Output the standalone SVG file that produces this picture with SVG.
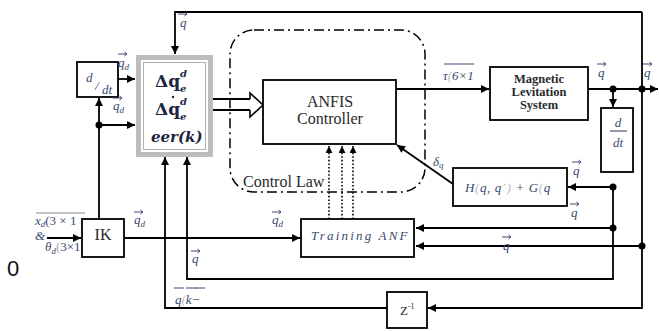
<svg xmlns="http://www.w3.org/2000/svg" xmlns:xlink="http://www.w3.org/1999/xlink" width="659" height="331" viewBox="0 0 659 331">
<style>
.box{fill:#fff;stroke:#000;stroke-width:1.8}
.ln{fill:none;stroke:#000;stroke-width:1.8}
.dot{fill:#000}
.lbl{font-family:"Liberation Serif",serif;font-style:italic;font-size:13px;fill:#3a4a70}
.sub{font-size:9px}
.tm{font-family:"Liberation Serif",serif;fill:#2a2a2a}
.math{font-family:"DejaVu Serif",serif;font-weight:bold;fill:#1c2540}
.va{fill:none;stroke:#3a4a70;stroke-width:1}
</style>
<defs>
<marker id="ah" viewBox="0 0 10 10" refX="10" refY="5" markerWidth="9" markerHeight="8" markerUnits="userSpaceOnUse" orient="auto">
<path d="M0,0 L10,5 L0,10 z" fill="#000"/>
</marker>
<marker id="ahs" viewBox="0 0 10 10" refX="10" refY="5" markerWidth="7" markerHeight="7" markerUnits="userSpaceOnUse" orient="auto">
<path d="M0,0 L10,5 L0,10 z" fill="#000"/>
</marker>
<path id="va" class="va" d="M0,0 H9 M6.5,-2 L9,0 L6.5,2"/>
<path id="ol" class="va" d="M0,0 H10"/>
</defs>
<rect width="659" height="331" fill="#fff"/>

<g id="connectors">
<path class="ln" d="M642,12 H175 V54" marker-end="url(#ah)"/>
<path class="ln" d="M642,12 V308 H428" marker-end="url(#ah)"/>
<path class="ln" d="M588,89 H658" marker-end="url(#ah)"/>
<path class="ln" d="M613,89 V107" marker-end="url(#ah)"/>
<path class="ln" d="M396,89 H489" marker-end="url(#ah)"/>
<path class="ln" d="M453,184 L397,145" marker-end="url(#ah)"/>
<path class="ln" d="M613,187 H568" marker-end="url(#ah)"/>
<path class="ln" d="M613,187 V279 H187 V157" marker-end="url(#ah)"/>
<path class="ln" d="M613,228 H416" marker-end="url(#ah)"/>
<path class="ln" d="M642,246 H416" marker-end="url(#ah)"/>
<path class="ln" d="M387,308 H165 V157" marker-end="url(#ah)"/>
<path class="ln" d="M124,238 H300" marker-end="url(#ah)"/>
<path class="ln" d="M47,238 H81" marker-end="url(#ah)"/>
<path class="ln" d="M99,219 V98" marker-end="url(#ah)"/>
<path class="ln" d="M99,125 H135" marker-end="url(#ah)"/>
<path class="ln" d="M118,79 H135" marker-end="url(#ah)"/>
<path class="ln" d="M213,99 H250 M213,110 H250"/>
<path d="M250,99 V93 L263,105 L250,117 V110" fill="#fff" stroke="#000" stroke-width="1.6"/>
<g fill="none" stroke="#000" stroke-width="1.6" stroke-dasharray="1.6,2">
<path d="M329,219 V146" marker-end="url(#ahs)"/>
<path d="M342,219 V146" marker-end="url(#ahs)"/>
<path d="M353,219 V146" marker-end="url(#ahs)"/>
</g>
<circle class="dot" cx="613" cy="89" r="3.5"/>
<circle class="dot" cx="642" cy="89" r="3.5"/>
<circle class="dot" cx="613" cy="187" r="3.5"/>
<circle class="dot" cx="613" cy="228" r="3.5"/>
<circle class="dot" cx="642" cy="246" r="3.5"/>
<circle class="dot" cx="99" cy="125" r="3.5"/>
</g>

<g id="control-law">
<rect x="230" y="30" width="195" height="162" rx="24" fill="none" stroke="#000" stroke-width="1.5" stroke-dasharray="10,4,2,4"/>
<text class="tm" x="243" y="187" font-size="16">Control Law</text>
</g>

<g id="error-box">
<rect x="138.5" y="57.5" width="72" height="97" fill="#fff" stroke="#bdbdbd" stroke-width="5"/>
<rect x="143.5" y="62.5" width="62" height="87" fill="none" stroke="#b0b0b0" stroke-width="1"/>
<text class="math" x="155" y="87" font-size="17">Δq</text>
<text class="math" x="180" y="77" font-size="10" font-style="italic">d</text>
<text class="math" x="180" y="92" font-size="10" font-style="italic">e</text>
<circle cx="173" cy="97" r="1.2" fill="#1c2540"/>
<text class="math" x="155" y="115" font-size="17">Δq</text>
<text class="math" x="180" y="105" font-size="10" font-style="italic">d</text>
<text class="math" x="180" y="120" font-size="10" font-style="italic">e</text>
<text class="math" x="151" y="142" font-size="15" font-style="italic">eer(k)</text>
</g>

<g id="ddt-left">
<rect class="box" x="77" y="62" width="41" height="35"/>
<text class="lbl" x="86" y="82" font-size="17" fill="#2a3050">d</text>
<text class="lbl" x="95" y="90" font-size="19" font-style="normal" fill="#2a3050">/</text>
<text class="lbl" x="102" y="94" font-size="11" fill="#2a3050">dt</text>
</g>

<g id="anfis">
<rect class="box" x="263" y="80" width="133" height="64"/>
<text class="tm" x="330" y="107" font-size="16" text-anchor="middle">ANFIS</text>
<text class="tm" x="330" y="124" font-size="16" text-anchor="middle">Controller</text>
</g>

<g id="maglev">
<rect class="box" x="490" y="67" width="98" height="53"/>
<g class="tm" font-size="12.5" font-weight="bold" text-anchor="middle" fill="#1a1a1a">
<text x="539" y="83">Magnetic</text>
<text x="539" y="96">Levitation</text>
<text x="539" y="109">System</text>
</g>
</g>

<g id="ddt-right">
<rect class="box" x="601" y="108" width="32" height="64"/>
<text class="lbl" x="618" y="127" font-size="15" text-anchor="middle" fill="#2a3050">d</text>
<path d="M610,131 H627" stroke="#2a3050" stroke-width="1"/>
<text class="lbl" x="618" y="147" font-size="15" text-anchor="middle" fill="#2a3050">dt</text>
</g>

<g id="hg">
<rect class="box" x="453" y="168" width="114" height="38"/>
<text class="lbl" x="465" y="192" font-size="18" letter-spacing="0.6" fill="#2a3a66">H<tspan fill="#bbb">(</tspan>q, q<tspan fill="#bbb">˙)</tspan> + G<tspan fill="#bbb">(</tspan>q</text>
</g>

<g id="training">
<rect class="box" x="301" y="219" width="113" height="38"/>
<text class="lbl" x="311" y="240" font-size="17" letter-spacing="2.2" fill="#3a4466">Training ANF</text>
</g>

<g id="ik">
<rect class="box" x="82" y="219" width="42" height="38"/>
<text class="tm" x="103" y="240" font-size="16" text-anchor="middle">IK</text>
</g>

<g id="zinv">
<rect class="box" x="387" y="292" width="40" height="36"/>
<text class="tm" x="400" y="315" font-size="13" fill="#444">Z<tspan font-size="8" dy="-6">-1</tspan></text>
</g>

<g id="labels">
<use href="#va" x="178" y="14"/><text class="lbl" x="180" y="27">q</text>
<use href="#va" x="118" y="54"/><text class="lbl" x="118" y="67">q<tspan class="sub" dy="3">d</tspan></text>
<use href="#va" x="113" y="98"/><text class="lbl" x="113" y="110">q<tspan class="sub" dy="3">d</tspan></text>
<use href="#va" x="134" y="212"/><text class="lbl" x="134" y="224">q<tspan class="sub" dy="3">d</tspan></text>
<use href="#va" x="272" y="212"/><text class="lbl" x="272" y="224">q<tspan class="sub" dy="3">d</tspan></text>
<use href="#va" x="191" y="251"/><text class="lbl" x="192" y="263" font-size="11">q</text>
<use href="#ol" x="174" y="288"/><use href="#ol" x="186" y="288"/><use href="#ol" x="195" y="288"/>
<text class="lbl" x="175" y="304">q<tspan fill="#bbb">(</tspan>k−</text>
<use href="#va" x="502" y="237"/><text class="lbl" x="503" y="250" font-size="11">q</text>
<use href="#va" x="572" y="162"/><text class="lbl" x="573" y="175" font-size="11">q</text>
<use href="#va" x="570" y="204"/><text class="lbl" x="571" y="217" font-size="11">q</text>
<use href="#va" x="597" y="64"/><text class="lbl" x="598" y="77">q</text>
<use href="#va" x="643" y="64"/><text class="lbl" x="644" y="77">q</text>
<text class="lbl" x="433" y="166" font-size="12">δ<tspan class="sub" dy="2">q</tspan></text>
<path d="M444,64 H474" stroke="#3a4a70" stroke-width="1"/>
<text class="lbl" x="443" y="80" font-size="12" font-style="normal">τ<tspan fill="#bbb">(</tspan>6×1</text>
<path d="M36,213 H85" stroke="#8a8a8a" stroke-width="1.2"/>
<text class="lbl" x="35" y="225" font-size="12">x<tspan class="sub" dy="2">d</tspan><tspan dy="-2" font-style="normal">(3 × 1</tspan></text>
<text class="lbl" x="35" y="240" font-size="9" font-style="normal">&amp;</text>
<text class="lbl" x="45" y="251" font-size="12">θ<tspan class="sub" dy="3">d</tspan><tspan dy="-3" font-style="normal" fill="#aaa">(</tspan><tspan font-style="normal">3×1</tspan></text>
<text x="7" y="276" font-family="Liberation Sans,sans-serif" font-size="22" fill="#111">0</text>
</g>
</svg>
